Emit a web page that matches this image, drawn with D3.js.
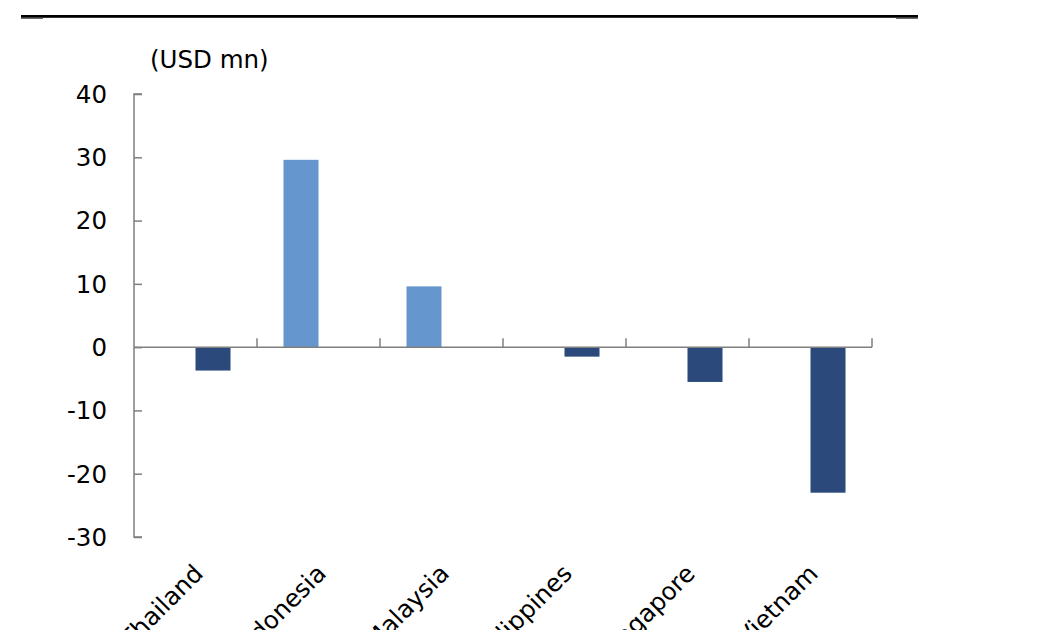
<!DOCTYPE html>
<html>
<head>
<meta charset="utf-8">
<script src="https://cdn.jsdelivr.net/npm/d3@7"></script>
<style>
  html, body { margin: 0; padding: 0; background: #fff; }
  svg { display: block; }
  text { font-family: "DejaVu Sans", Verdana, sans-serif; fill: #000; }
</style>
</head>
<body>
<svg id="chart" width="1050" height="630"></svg>
<script>
// ---- data ----
const categories = ["Thailand", "Indonesia", "Malaysia", "Philippines", "Singapore", "Vietnam"];
const seriesNames = ["positive", "negative"];
const positiveValues = [null, 29.6, 9.6, null, null, null];
const negativeValues = [-3.7, null, null, -1.5, -5.5, -23.0];
const yTicks = [40, 30, 20, 10, 0, -10, -20, -30];
const yTitle = "(USD mn)";

// ---- layout ----
const svg = d3.select("#chart");
const plotLeft = 134, plotRight = 872, yTop = 94, yBottom = 537;
const colors = { positive: "#6696CE", negative: "#2B4A7B" };
const axisColor = "#7f7f7f";
const fs = 24.5;

const y = d3.scaleLinear().domain([-30, 40]).range([yBottom, yTop]);
const x0 = d3.scaleBand().domain(categories).range([plotLeft, plotRight]).paddingInner(0).paddingOuter(0);
const x1 = d3.scaleBand().domain(seriesNames).range([0, x0.bandwidth()]).paddingInner(0).paddingOuter(0.757);

// top rule
svg.append("rect").attr("x", 21).attr("y", 15).attr("width", 897).attr("height", 2.8).attr("fill", "#000");
svg.append("rect").attr("x", 21).attr("y", 17.5).attr("width", 22).attr("height", 1.3).attr("fill", "#444");
svg.append("rect").attr("x", 896).attr("y", 17.5).attr("width", 22).attr("height", 1.3).attr("fill", "#444");

// bars
const rows = [];
categories.forEach((c, i) => {
  if (positiveValues[i] != null) rows.push({ cat: c, s: "positive", v: positiveValues[i] });
  if (negativeValues[i] != null) rows.push({ cat: c, s: "negative", v: negativeValues[i] });
});
svg.append("g").selectAll("rect").data(rows).join("rect")
  .attr("x", d => x0(d.cat) + x1(d.s))
  .attr("width", x1.bandwidth())
  .attr("y", d => y(Math.max(0, d.v)))
  .attr("height", d => Math.abs(y(d.v) - y(0)))
  .attr("fill", d => colors[d.s]);

// y axis
const yAxis = d3.axisRight(y).tickValues(yTicks).tickSize(8).tickFormat("");
const gy = svg.append("g").attr("transform", `translate(${plotLeft},0)`).call(yAxis);
gy.select(".domain").attr("stroke", axisColor).attr("stroke-width", 1.5).attr("d", `M8,${yTop}H0V${yBottom}H8`);
gy.selectAll(".tick line").attr("stroke", axisColor).attr("stroke-width", 1.5);

svg.append("g").selectAll("text").data(yTicks).join("text")
  .attr("x", 107).attr("y", d => y(d)).attr("dy", "0.36em")
  .attr("text-anchor", "end").attr("font-size", fs)
  .text(d => d);

// x axis at zero
const xTickPos = categories.map(c => x0(c) + x0.bandwidth());
const gx = svg.append("g");
gx.append("line").attr("x1", plotLeft).attr("x2", plotRight).attr("y1", y(0)).attr("y2", y(0))
  .attr("stroke", axisColor).attr("stroke-width", 1.5);
gx.selectAll("line.t").data(xTickPos).join("line").attr("class", "t")
  .attr("x1", d => d).attr("x2", d => d).attr("y1", y(0)).attr("y2", y(0) - 9)
  .attr("stroke", axisColor).attr("stroke-width", 1.5);

// category labels
svg.append("g").selectAll("text").data(categories).join("text")
  .attr("transform", c => `translate(${x0(c) + x0.bandwidth() / 2 + 9},575) rotate(-45)`)
  .attr("text-anchor", "end").attr("font-size", fs)
  .text(c => c);

// y title
svg.append("text").attr("x", 150).attr("y", 68).attr("font-size", fs).text(yTitle);
</script>
</body>
</html>
